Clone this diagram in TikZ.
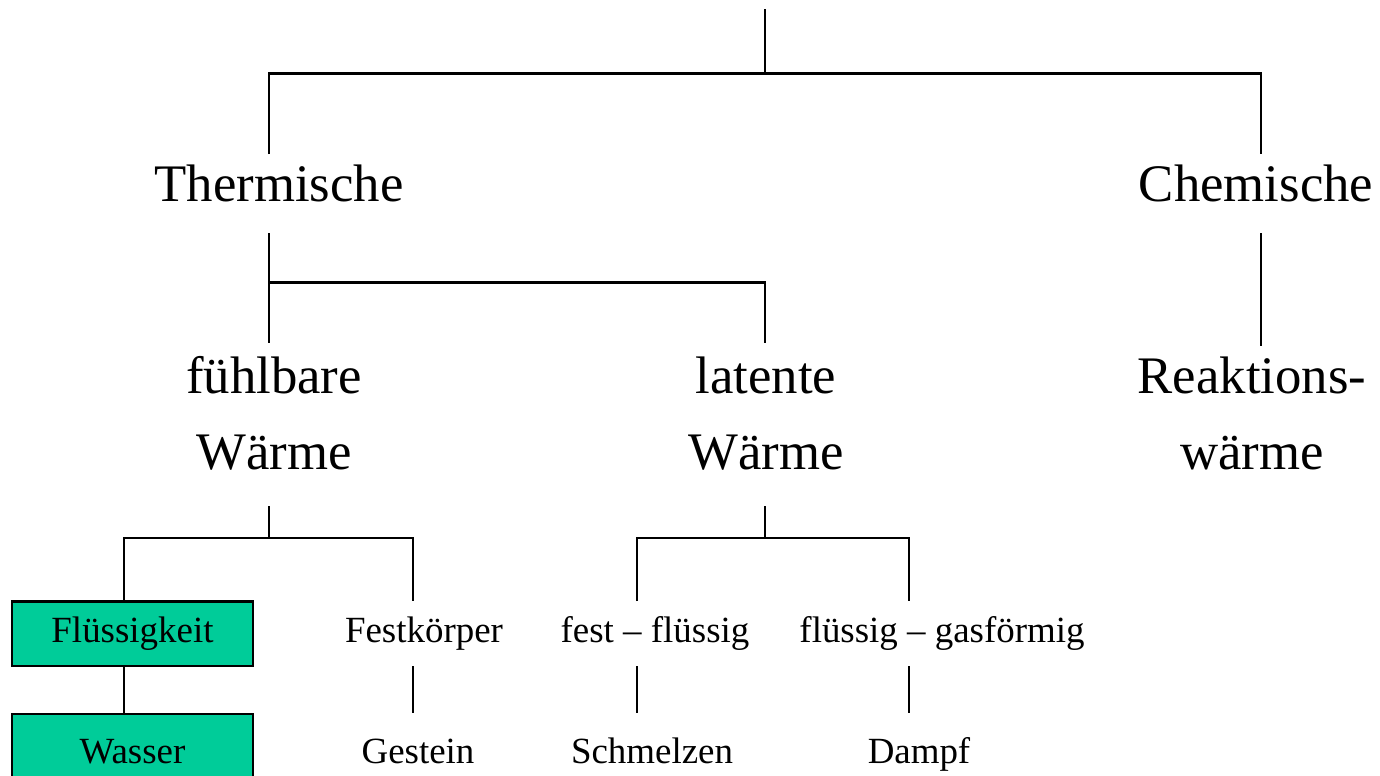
\documentclass[tikz,border=0pt]{standalone}
\usepackage{fontspec}
\setmainfont{Liberation Serif}
\definecolor{boxgreen}{RGB}{0,204,153}
\begin{document}
\begin{tikzpicture}[x=0.01cm,y=-0.01cm,line width=0.6pt,
  big/.style={font=\fontsize{15}{21.6}\selectfont,inner sep=0pt,anchor=base,align=center},
  small/.style={font=\fontsize{10.5}{12.6}\selectfont,inner sep=0pt,anchor=base},
  gbox/.style={draw,fill=boxgreen,font=\fontsize{10.5}{12.6}\selectfont,inner sep=0pt,
    minimum width=2.41cm,text height=7.2pt,text depth=2.3pt}]
\useasboundingbox (0,0) rectangle (1380,775);
\clip (0,0) rectangle (1380,775);
% text nodes
\node[big] (th) at (279,201) {Thermische};
\node[big] (ch) at (1256,201) {Chemische};
\node[big] (fu) at (274,469) {fühlbare\\Wärme};
\node[big] (la) at (766,469) {latente\\Wärme};
\node[big] (re) at (1252,469) {Reaktions-\\wärme};
\node[gbox,minimum height=0.645cm] (fl) at (132.5,633.75) {Flüssigkeit};
\node[gbox,minimum height=0.81cm] (wa) at (132.5,754.5) {Wasser};
\node[small] (fk) at (424,642) {Festkörper};
\node[small] (ff) at (655,642) {fest – flüssig};
\node[small] (fg) at (942,642) {flüssig – gasförmig};
\node[small] (ge) at (418,763) {Gestein};
\node[small] (sc) at (652,763) {Schmelzen};
\node[small] (da) at (919,763) {Dampf};
% connector end points
\coordinate (rootTop) at (765,9);
\coordinate (busA) at (0,73.5);
\coordinate (thIn) at (269,154);
\coordinate (chIn) at (1261,154);
\coordinate (thOut) at (269,233);
\coordinate (busB) at (0,282.5);
\coordinate (fuIn) at (269,343);
\coordinate (laIn) at (765,343);
\coordinate (chOut) at (1261,233);
\coordinate (reIn) at (1261,346);
\coordinate (fuOut) at (269,506);
\coordinate (laOut) at (765,506);
\coordinate (busC) at (0,538);
\coordinate (flIn) at (124,601.5);
\coordinate (fkIn) at (413,601);
\coordinate (ffIn) at (637,601);
\coordinate (fgIn) at (909,601);
\coordinate (fkOut) at (413,666);
\coordinate (geIn) at (413,713);
\coordinate (ffOut) at (637,666);
\coordinate (scIn) at (637,713);
\coordinate (fgOut) at (909,666);
\coordinate (daIn) at (909,713);
% connectors
\draw (rootTop) -- (rootTop |- busA);
\draw (thIn) -- (thIn |- busA) -| (chIn);
\draw (thOut) -- (fuIn);
\draw (thOut |- busB) -| (laIn);
\draw (chOut) -- (reIn);
\draw (fuOut) -- (fuOut |- busC);
\draw (flIn) -- (flIn |- busC) -| (fkIn);
\draw (laOut) -- (laOut |- busC);
\draw (ffIn) -- (ffIn |- busC) -| (fgIn);
\draw (fl.south -| flIn) -- (wa.north -| flIn);
\draw (fkOut) -- (geIn);
\draw (ffOut) -- (scIn);
\draw (fgOut) -- (daIn);
\end{tikzpicture}
\end{document}
